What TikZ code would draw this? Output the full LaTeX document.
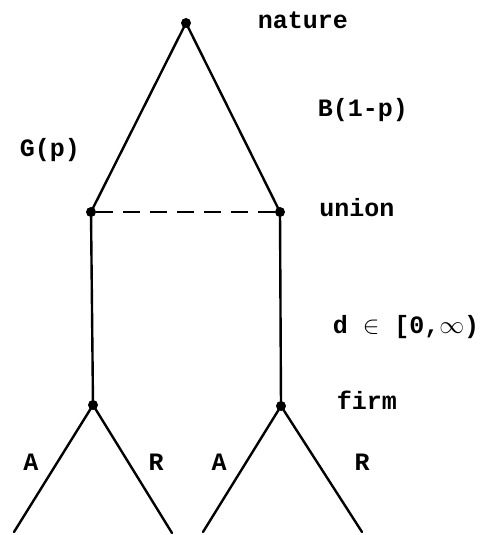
\documentclass[tikz,border=0pt]{standalone}
\usepackage{fontspec}
\setmonofont{Liberation Mono}
\usetikzlibrary{positioning}
\tikzset{
  dot/.style={circle, fill=black, inner sep=0pt, minimum size=10pt},
  branch/.style={line width=2.4pt, line cap=round},
  info/.style={line width=2.4pt, dash pattern=on 17pt off 10pt},
  lbl/.style={font=\fontsize{25}{28}\selectfont\ttfamily\bfseries, inner sep=0pt},
}
\begin{document}
\begin{tikzpicture}[x=1pt,y=-1pt]
    \useasboundingbox (0,0) rectangle (479,535);
    % decision nodes
    \node[dot] (nature) at (186,23) {};
    \node[dot] (unionG) at (91,212) {};
    \node[dot] (unionB) at (280,212) {};
    \node[dot] (firmG)  at (93,405) {};
    \node[dot] (firmB)  at (281,406) {};
    % end points
    \coordinate (GA) at (14,532);
    \coordinate (GR) at (172,533);
    \coordinate (BA) at (203,532);
    \coordinate (BR) at (362,532);
    % branches
    \draw[branch] (nature.center) -- (unionG.center);
    \draw[branch] (nature.center) -- (unionB.center);
    \draw[info] (unionG) -- (unionB);
    \draw[branch] (unionG.center) -- (firmG.center);
    \draw[branch] (unionB.center) -- (firmB.center);
    \draw[branch] (firmG.center) -- (GA);
    \draw[branch] (firmG.center) -- (GR);
    \draw[branch] (firmB.center) -- (BA);
    \draw[branch] (firmB.center) -- (BR);
    % labels
    \node[lbl] (natlbl) at (303,20) {nature};
    \node[lbl] (Blbl) at (363,110) {B(1-p)};
    \node[lbl] (Glbl) at (50,150) {G(p)};
    \node[lbl] (unionlbl) at (357,208) {union};
    \node[lbl] (dlbl) at (406,327) {d ${\in}$ [0,${\infty}$)};
    \node[lbl] (firmlbl) at (367,400) {firm};
    \node[lbl] (GAlbl) at (31,462) {A};
    \node[lbl] (GRlbl) at (156,462) {R};
    \node[lbl] (BAlbl) at (219,462) {A};
    \node[lbl] (BRlbl) at (362,462) {R};
\end{tikzpicture}
\end{document}
